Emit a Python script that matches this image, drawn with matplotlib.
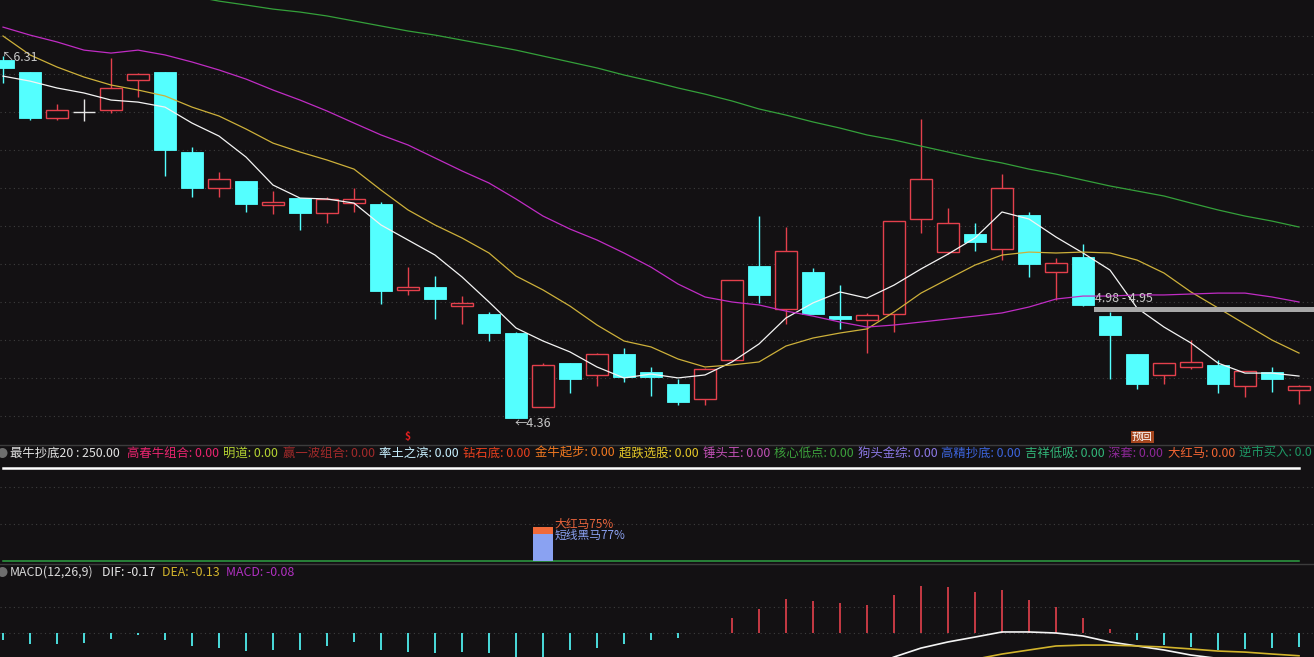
"""K-line chart with MA lines, signal panel and MACD, dark trading-terminal style."""

import matplotlib

matplotlib.use("Agg")

import matplotlib.pyplot as plt
import numpy as np
from matplotlib.lines import Line2D
from matplotlib.patches import Ellipse, Rectangle
from matplotlib.transforms import blended_transform_factory

plt.rcParams["font.family"] = ["Noto Sans CJK SC", "DejaVu Sans"]

# ---- data ----
opens = [6.289, 6.224, 5.976, 6.008, 6.019, 6.181, 6.224, 5.793, 5.599, 5.637,
         5.507, 5.545, 5.464, 5.518, 5.513, 5.050, 5.066, 4.963, 4.920, 4.818,
         4.419, 4.656, 4.592, 4.705, 4.608, 4.543, 4.462, 4.672, 5.179, 4.947,
         5.147, 4.909, 4.888, 4.920, 5.432, 5.254, 5.351, 5.270, 5.454, 5.147,
         5.227, 4.909, 4.705, 4.592, 4.635, 4.645, 4.532, 4.608, 4.511]
highs = [6.310, 6.224, 6.051, 6.078, 6.299, 6.218, 6.224, 5.820, 5.685, 5.637,
         5.583, 5.545, 5.551, 5.599, 5.524, 5.173, 5.125, 5.017, 4.931, 4.823,
         4.656, 4.656, 4.710, 4.737, 4.635, 4.570, 4.629, 5.103, 5.448, 5.389,
         5.168, 5.077, 4.926, 5.421, 5.969, 5.491, 5.410, 5.674, 5.470, 5.222,
         5.297, 4.931, 4.705, 4.656, 4.780, 4.672, 4.613, 4.635, 4.538]
lows = [6.165, 5.965, 5.965, 5.960, 6.003, 6.089, 5.664, 5.551, 5.551, 5.470,
        5.459, 5.373, 5.410, 5.470, 4.974, 5.023, 4.893, 4.866, 4.775, 4.360,
        4.419, 4.495, 4.532, 4.554, 4.479, 4.430, 4.430, 4.672, 4.979, 4.866,
        4.920, 4.839, 4.710, 4.823, 5.358, 5.243, 5.260, 5.211, 5.120, 4.995,
        4.963, 4.570, 4.516, 4.543, 4.624, 4.495, 4.473, 4.500, 4.435]
closes = [6.245, 5.976, 6.019, 6.008, 6.138, 6.213, 5.804, 5.599, 5.647, 5.513,
          5.524, 5.464, 5.540, 5.540, 5.044, 5.066, 5.001, 4.979, 4.818, 4.360,
          4.645, 4.570, 4.705, 4.581, 4.581, 4.446, 4.624, 5.103, 5.023, 5.260,
          4.920, 4.893, 4.915, 5.421, 5.647, 5.410, 5.308, 5.599, 5.189, 5.195,
          4.968, 4.807, 4.543, 4.656, 4.662, 4.543, 4.613, 4.570, 4.532]

ma5 = [6.202, 6.175, 6.138, 6.111, 6.073, 6.062, 6.035, 5.949, 5.879, 5.766,
       5.615, 5.545, 5.540, 5.518, 5.400, 5.319, 5.238, 5.120, 4.985, 4.845,
       4.775, 4.716, 4.635, 4.576, 4.597, 4.576, 4.592, 4.662, 4.759, 4.899,
       4.980, 5.039, 5.006, 5.076, 5.163, 5.243, 5.330, 5.470, 5.432, 5.335,
       5.249, 5.157, 4.953, 4.850, 4.764, 4.656, 4.602, 4.602, 4.586]
ma10 = [6.418, 6.316, 6.251, 6.197, 6.154, 6.127, 6.095, 6.035, 5.987, 5.917,
        5.841, 5.793, 5.750, 5.701, 5.588, 5.481, 5.400, 5.330, 5.249, 5.125,
        5.050, 4.963, 4.861, 4.775, 4.743, 4.678, 4.635, 4.646, 4.662, 4.748,
        4.791, 4.818, 4.840, 4.931, 5.033, 5.109, 5.184, 5.238, 5.254, 5.249,
        5.254, 5.249, 5.211, 5.141, 5.039, 4.953, 4.866, 4.780, 4.710]
ma20 = [6.466, 6.423, 6.386, 6.342, 6.326, 6.342, 6.316, 6.278, 6.235, 6.186,
        6.127, 6.073, 6.014, 5.949, 5.885, 5.831, 5.761, 5.691, 5.626, 5.540,
        5.448, 5.378, 5.319, 5.249, 5.173, 5.082, 5.012, 4.985, 4.969, 4.936,
        4.909, 4.877, 4.850, 4.861, 4.877, 4.893, 4.909, 4.926, 4.958, 5.001,
        5.017, 5.017, 5.023, 5.023, 5.028, 5.033, 5.033, 5.012, 4.985]
ma60_start = 7
ma60 = [6.633, 6.606, 6.585, 6.563, 6.547, 6.526, 6.499, 6.472, 6.445, 6.423,
        6.396, 6.369, 6.342, 6.310, 6.278, 6.246, 6.208, 6.175, 6.138, 6.105,
        6.068, 6.025, 5.992, 5.955, 5.922, 5.885, 5.858, 5.825, 5.793, 5.761,
        5.734, 5.701, 5.674, 5.642, 5.610, 5.583, 5.556, 5.518, 5.481, 5.448,
        5.421, 5.389]

high_label, low_label = "6.31", "4.36"
high_idx, low_idx = 0, 19
zone_lo, zone_hi = 4.93, 4.96
zone_text = "4.98 - 4.95"
zone_start_idx = 40.4

dollar_idx = 15
yuhui_idx = 42.2

# signal panel
line_top_value = 250
signal_idx = 20
red_horse_value = 91
dark_horse_value = 73

macd = [-0.040, -0.063, -0.063, -0.057, -0.034, -0.011, -0.040, -0.074, -0.086, -0.103,
        -0.097, -0.097, -0.074, -0.051, -0.097, -0.109, -0.114, -0.109, -0.114, -0.154,
        -0.166, -0.097, -0.086, -0.063, -0.040, -0.029, 0.000, 0.086, 0.137, 0.194,
        0.183, 0.171, 0.160, 0.217, 0.269, 0.263, 0.234, 0.246, 0.189, 0.149,
        0.086, 0.023, -0.040, -0.069, -0.080, -0.097, -0.091, -0.086, -0.080]
dif_start = 32
dif = [-0.200, -0.137, -0.086, -0.051, -0.023, 0.006, 0.006, 0.000, -0.017, -0.051,
       -0.074, -0.097, -0.126, -0.145, -0.155, -0.163, -0.170]
dea_start = 35
dea = [-0.190, -0.150, -0.120, -0.097, -0.074, -0.069, -0.069, -0.074, -0.080, -0.091,
       -0.103, -0.109, -0.120, -0.130]

header_items = [
    ("最牛抄底20 : 250.00", "#e2e2e2", 10),
    ("高春牛组合: 0.00", "#e8246e", 127),
    ("明道: 0.00", "#b4d232", 223),
    ("赢一波组合: 0.00", "#a02a2a", 283),
    ("率土之滨: 0.00", "#c8f0ff", 379),
    ("钻石底: 0.00", "#e8401e", 463),
    ("金牛起步: 0.00", "#f07820", 535),
    ("超跌选股: 0.00", "#e6c828", 619),
    ("锤头王: 0.00", "#c050b4", 703),
    ("核心低点: 0.00", "#3ca03c", 774),
    ("狗头金综: 0.00", "#8c78e6", 858),
    ("高精抄底: 0.00", "#3c64dc", 941),
    ("吉祥低吸: 0.00", "#32b478", 1025),
    ("深套: 0.00", "#8c2896", 1108),
    ("大红马: 0.00", "#f06432", 1168),
    ("逆市买入: 0.0", "#1e9664", 1239),
]
macd_items = [
    ("MACD(12,26,9)", "#d8d8d8", 10),
    ("DIF: -0.17", "#e8e8e8", 102),
    ("DEA: -0.13", "#d2b42c", 162),
    ("MACD: -0.08", "#b030c0", 226),
]

# ---- style ----
W, H = 1314, 657
BG = "#131113"
RED = "#e4404c"
CYAN = "#54ffff"
GRID = "#3e3e3e"
FS = 8.9

fig = plt.figure(figsize=(W / 100, H / 100), dpi=100, facecolor=BG)


def px_axes(top, bottom):
    ax = fig.add_axes([0, 1 - bottom / H, 1, (bottom - top) / H])
    ax.set_facecolor(BG)
    ax.set_xlim(-3 / 27, (W - 3) / 27)
    ax.axis("off")
    return ax


ax_p = px_axes(0, 444)
ax_i = px_axes(444, 563)
ax_m = px_axes(563, 657)

# price panel
ax_p.set_ylim(4.220, 6.612)
for ypx in range(36, 444, 38):
    ax_p.axhline(6.612 - (6.612 - 4.220) * ypx / 444, color=GRID, lw=0.8,
                 ls=(0, (1, 3)), zorder=0)

half = 0.39
for i, (o, h, l, c) in enumerate(zip(opens, highs, lows, closes)):
    if c > o:
        ax_p.add_patch(Rectangle((i - half, o), 2 * half, c - o, facecolor=BG,
                                 edgecolor=RED, lw=1.0, zorder=2))
        ax_p.vlines(i, c, h, color=RED, lw=1.0, zorder=2)
        ax_p.vlines(i, l, o, color=RED, lw=1.0, zorder=2)
    elif c < o:
        ax_p.vlines(i, l, h, color=CYAN, lw=1.0, zorder=1)
        ax_p.add_patch(Rectangle((i - half, c), 2 * half, o - c, facecolor=CYAN,
                                 edgecolor=CYAN, lw=0.6, zorder=2))
    else:
        ax_p.vlines(i, l, h, color="#e6e6e6", lw=1.0, zorder=2)
        ax_p.hlines(o, i - half, i + half, color="#e6e6e6", lw=1.0, zorder=2)

x = np.arange(len(closes))
ax_p.plot(x, ma5, color="#f4f4f4", lw=0.9, zorder=3)
ax_p.plot(x, ma10, color="#cdb03a", lw=0.9, zorder=3)
ax_p.plot(x, ma20, color="#c02cc4", lw=0.9, zorder=3)
ax_p.plot(np.arange(ma60_start, ma60_start + len(ma60)), ma60, color="#34a03a",
          lw=0.9, zorder=3)

ax_p.text(high_idx - 0.05, 6.30, "↖" + high_label, color="#c8c8c8", fontsize=FS,
          ha="left", va="center", zorder=4)
ax_p.text(low_idx - 0.05, 4.333, "←" + low_label, color="#c8c8c8", fontsize=FS,
          ha="left", va="center", zorder=4)

ax_p.axhspan(zone_lo, zone_hi, xmin=(3 + 27 * zone_start_idx) / W, xmax=1,
             color="#a8a8a8", lw=0, zorder=3)
ax_p.text(zone_start_idx + 0.05, 5.006, zone_text, color="#c8c8c8", fontsize=FS,
          ha="left", va="center", zorder=4)

bt = blended_transform_factory(ax_p.transData, ax_p.transAxes)
ax_p.text(dollar_idx - 0.02, 0.015, "$", transform=bt, color="#e42020",
          fontsize=7.5, fontweight="bold", ha="center", va="center")
ax_p.text(yuhui_idx, 0.016, "预回", transform=bt, color="#ffffff", fontsize=7.5,
          ha="center", va="center",
          bbox=dict(boxstyle="square,pad=0.12", facecolor="#a4461e", edgecolor="none"))

# signal panel
ax_i.set_ylim(-5.4, 316)
for gv in (100, 200):
    ax_i.axhline(gv, color=GRID, lw=0.8, ls=(0, (1, 3)), zorder=0)
ax_i.plot(x, [line_top_value] * len(x), color="#ffffff", lw=1.8)
ax_i.plot(x, [0] * len(x), color="#2ea043", lw=1.1)
ax_i.bar(signal_idx, red_horse_value, width=0.74, color="#f06a3a", zorder=2)
ax_i.bar(signal_idx, dark_horse_value, width=0.74, color="#8aa2f2", zorder=3)
ax_i.text(signal_idx + 0.42, 99, "大红马75%", color="#e8643c", fontsize=FS - 0.4,
          ha="left", va="center", zorder=4)
ax_i.text(signal_idx + 0.42, 68, "短线黑马77%", color="#8aa0f0", fontsize=FS - 0.4,
          ha="left", va="center", zorder=4)

# MACD panel
ax_m.set_ylim(-0.137, 0.4)
for gv in (0.15, 0.0):
    ax_m.axhline(gv, color=GRID, lw=0.8, ls=(0, (1, 3)), zorder=0)
macd_arr = np.array(macd)
bar_colors = [RED if v > 0 else CYAN for v in macd_arr]
ax_m.vlines(x, 0, macd_arr, colors=bar_colors, lw=1.2, zorder=2)
ax_m.plot(np.arange(dif_start, dif_start + len(dif)), dif, color="#f4f4f4",
          lw=1.2, zorder=3)
ax_m.plot(np.arange(dea_start, dea_start + len(dea)), dea, color="#d2b42c",
          lw=1.2, zorder=3)

# separators and header rows
for ypx in (444.5, 563.5):
    fig.add_artist(Line2D([0, 1], [1 - ypx / H] * 2, color="#3c3c3c", lw=1.0))

for label, color, xpx in header_items:
    fig.text(xpx / W, 1 - 453 / H, label, color=color, fontsize=FS,
             ha="left", va="center")
for label, color, xpx in macd_items:
    fig.text(xpx / W, 1 - 572 / H, label, color=color, fontsize=FS,
             ha="left", va="center")
for ypx in (453, 572):
    fig.add_artist(Ellipse((2.5 / W, 1 - ypx / H), 10 / W, 10 / H,
                           facecolor="#6e6e6e", edgecolor="none"))

fig.savefig("out.png", dpi=100, facecolor=BG)
plt.close(fig)
